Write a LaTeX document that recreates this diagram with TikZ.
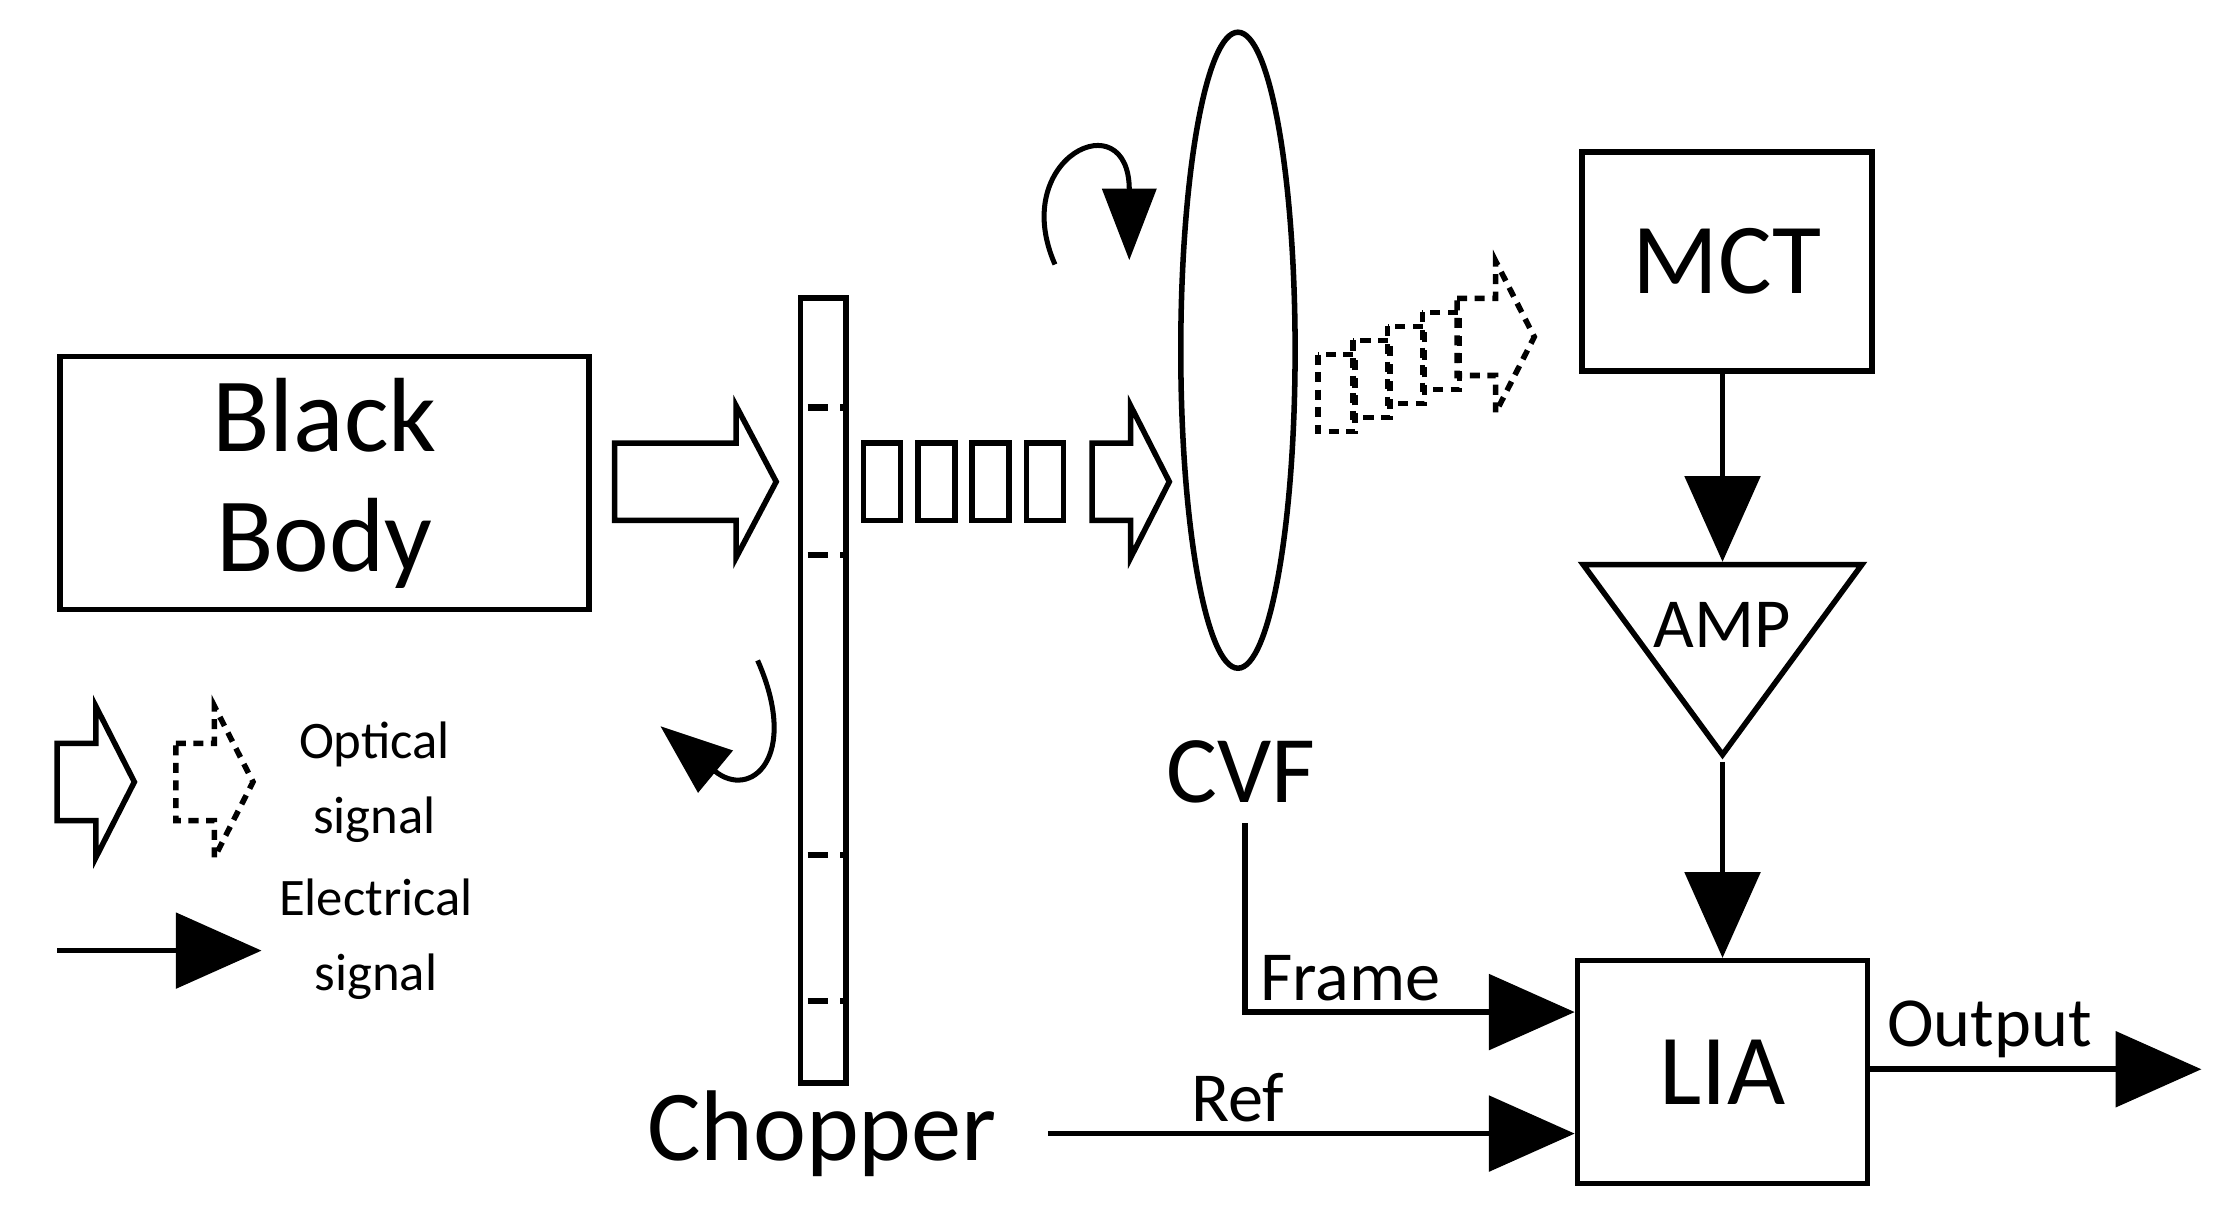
\documentclass[tikz,border=0pt]{standalone}
\usepackage{fontspec}
\setmainfont{Carlito}
\usetikzlibrary{arrows.meta,shapes.geometric,positioning}
\tikzset{
    box/.style={draw,line width=2.2pt,inner sep=0pt},
    elec/.style={line width=2.2pt,-{Triangle[length=1.2cm,width=1.05cm]}},
    pics/optarrow/.style={code={
        \draw[line width=2.2pt,#1] (0,-27)--(27,-27)--(27,-53)--(54,0)--(27,53)--(27,27)--(0,27)--cycle;
    }},
    pics/pulse/.style={code={
        \draw[line width=2.2pt,#1] (0,-27) rectangle (26,27);
    }}
}
\begin{document}
\begin{tikzpicture}[x=0.02cm,y=-0.02cm]
    	        % frame
    	        \useasboundingbox (0,0) rectangle (1560,858);
    	        % Black body and optical path
    	        \node[box,minimum width=7.4cm,minimum height=3.54cm,align=center,font=\fontsize{42}{48}\selectfont] (bb) at (227,338) {Black\\Body};
    	        \draw[line width=2.2pt] (430,310)--(515,310)--(515,284)--(543,337)--(515,390)--(515,364)--(430,364)--cycle;
    	        % Chopper
    	        \node[box,minimum width=0.64cm,minimum height=10.98cm] (chop) at (576,483) {};
    	        \foreach \y in {285,388,598,700}
    	            \draw[line width=2.5pt,dash pattern=on 8pt off 5pt] (565,\y)--(590,\y);
    	        \node[font=\fontsize{40}{46}\selectfont] (choplab) at (575,793) {Chopper};
    	        \draw[line width=2pt,-{Triangle[length=1cm,width=0.75cm]}] (530,462) .. controls (560,530) and (525,560) .. (462,508);
    	        % Pulse train
    	        \foreach \x in {604,642,680,718}
    	            \pic at (\x,337) {pulse};
    	        \pic at (764,337) {optarrow={}};
    	        % CVF
    	        \node[draw,ellipse,line width=2.2pt,minimum width=1.6cm,minimum height=8.9cm] (cvf) at (866,245) {};
    	        \node[font=\fontsize{38}{44}\selectfont] (cvflab) at (868,540) {CVF};
    	        \draw[line width=2pt,-{Triangle[length=1cm,width=0.75cm]}] (738,185) .. controls (705,110) and (790,70) .. (790,182);
    	        % Dashed train towards MCT
    	        \begin{scope}[shift={(922,275)},rotate=22,scale=0.82]
    	            \foreach \x in {0,32,64,96}
    	                \pic at (\x,0) {pulse={dash pattern=on 4pt off 3pt}};
    	            \pic at (128,0) {optarrow={dash pattern=on 4pt off 3pt}};
    	        \end{scope}
    	        % Electronics
    	        \node[box,minimum width=4.06cm,minimum height=3.06cm,font=\fontsize{40}{46}\selectfont] (mct) at (1208,183) {MCT};
    	        \node[draw,line width=2.2pt,isosceles triangle,shape border rotate=-90,isosceles triangle stretches,minimum width=3.9cm,minimum height=2.66cm,inner sep=0pt,anchor=apex] (amp) at (1205,533) {};
    	        \node[font=\fontsize{28}{32}\selectfont] (amplab) at (1205,437) {AMP};
    	        \node[box,minimum width=4.06cm,minimum height=3.12cm,font=\fontsize{40}{46}\selectfont] (lia) at (1205,750) {LIA};
    	        \draw[elec] (mct.south -| amp.apex) -- (amp.north -| amp.apex);
    	        \draw[elec] (amp.apex) -- (lia.north -| amp.apex);
    	        % Frame, Ref, Output
    	        \coordinate (fstart) at (871,576);
    	        \coordinate (rstart) at (733,793);
    	        \coordinate (oend) at (1540,748);
    	        \draw[elec] (fstart) |- (lia.west |- 0,708) node[pos=0.66,above,font=\fontsize{28}{32}\selectfont] {Frame};
    	        \draw[elec] (rstart) -- (lia.west |- rstart) node[pos=0.36,above,font=\fontsize{28}{32}\selectfont] {Ref};
    	        \draw[elec] (lia.east |- oend) -- (oend) node[pos=0.36,above,font=\fontsize{28}{32}\selectfont] {Output};
    	        % Legend
    	        \pic at (40,547) {optarrow={}};
    	        \pic at (123,547) {optarrow={dash pattern=on 4pt off 3pt}};
    	        \node[align=center,font=\fontsize{21}{30}\selectfont] (optlab) at (262,547) {Optical\\signal};
    	        \coordinate (ls) at (40,665);
    	        \coordinate (le) at (183,665);
    	        \draw[elec] (ls) -- (le);
    	        \node[align=center,font=\fontsize{21}{30}\selectfont] (eleclab) at (263,657) {Electrical\\signal};
    	    \end{tikzpicture}
\end{document}
